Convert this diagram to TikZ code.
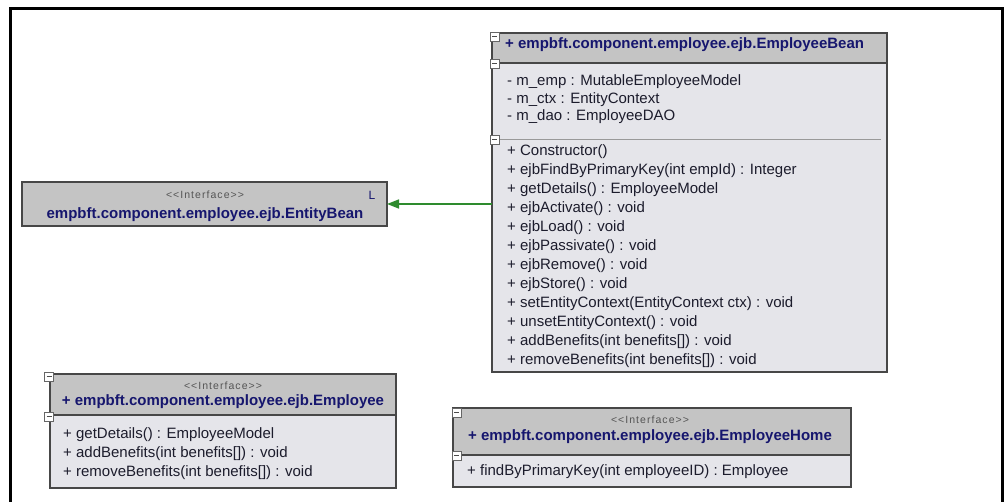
\documentclass[tikz,border=0pt]{standalone}
\usepackage{fontspec}
\setmainfont{Liberation Sans}
\newfontfamily\stfont[Ligatures=TeXOff,LetterSpace=10]{Liberation Sans}
\usetikzlibrary{arrows.meta}
\definecolor{hdr}{HTML}{C4C4C4}
\definecolor{bdy}{HTML}{E5E5EA}
\definecolor{navy}{HTML}{16166E}
\definecolor{txt}{HTML}{1C1C2C}
\definecolor{edge}{HTML}{474747}
\definecolor{stgray}{HTML}{555555}
\definecolor{arrowgreen}{HTML}{2E8B2E}
\tikzset{
  boxbase/.style={draw=edge, line width=1.2pt, inner sep=0pt, outer sep=0pt, anchor=north west},
  hdrbox/.style={boxbase, fill=hdr},
  bodybox/.style={boxbase, fill=bdy},
  sepline/.style={draw=black!40, line width=1pt},
  minusbox/.style={draw=black!60, fill=white, line width=0.8pt, minimum size=9pt, inner sep=0pt,
    path picture={\draw[line width=1pt, black!70] ([xshift=2pt]path picture bounding box.west) -- ([xshift=-2pt]path picture bounding box.east);}},
  titletext/.style={font=\fontsize{15}{18}\selectfont\bfseries, text=navy, inner sep=0pt},
  bodytext/.style={font=\fontsize{15}{18}\selectfont, text=txt, inner sep=0pt, anchor=west},
  stereo/.style={font=\fontsize{10.5}{12}\stfont, text=stgray, inner sep=0pt},
  realize/.style={draw=arrowgreen, line width=1.5pt, -{Triangle[length=12pt, width=9pt]}}
}
\begin{document}
\begin{tikzpicture}[x=1pt,y=-1pt]
\useasboundingbox (0,0) rectangle (1007,502);
\fill[white] (0,0) rectangle (1007,502);
\draw[line width=3pt] (10.3,503) -- (10.3,9) -- (1002.3,9) -- (1002.3,503);

% EmployeeBean
\node[hdrbox, minimum width=395pt, minimum height=30pt] (beanH) at (492,33) {};
\node[bodybox, minimum width=395pt, minimum height=309pt] (beanB) at (492,63) {};
\draw[sepline] ([xshift=1pt]beanB.west |- 0,140) -- ([xshift=-6pt]beanB.east |- 0,140);
\node[titletext, anchor=west] (beanT) at (505,45) {+ empbft.component.employee.ejb.EmployeeBean};
\foreach \t [count=\i] in {{- m\_emp : MutableEmployeeModel},{- m\_ctx : EntityContext},{- m\_dao : EmployeeDAO}}
  \node[bodytext] (ba\i) at (507,64.5+17.5*\i) {\t};
\foreach \t [count=\i] in {{+ Constructor()},{+ ejbFindByPrimaryKey(int empId) : Integer},{+ getDetails() : EmployeeModel},{+ ejbActivate() : void},{+ ejbLoad() : void},{+ ejbPassivate() : void},{+ ejbRemove() : void},{+ ejbStore() : void},{+ setEntityContext(EntityContext ctx) : void},{+ unsetEntityContext() : void},{+ addBenefits(int benefits[]) : void},{+ removeBenefits(int benefits[]) : void}}
  \node[bodytext] (bm\i) at (507,133+19*\i) {\t};
\node[minusbox] (bmin1) at (494.5,36.5) {};
\node[minusbox] (bmin2) at (494.5,63.5) {};
\node[minusbox] (bmin3) at (494.5,139.5) {};

% EntityBean
\node[hdrbox, minimum width=365pt, minimum height=44pt] (entity) at (22,182) {};
\node[stereo] (entS) at (205,195) {<<Interface>>};
\node[font=\fontsize{12}{14}\selectfont, text=navy, inner sep=0pt] (entL) at (372,195) {L};
\node[titletext] (entT) at (205,215) {empbft.component.employee.ejb.EntityBean};

% realization arrow
\draw[realize] (beanB.west |- entity.east) -- (entity.east);

% Employee
\node[hdrbox, minimum width=346pt, minimum height=41pt] (empH) at (50,374) {};
\node[bodybox, minimum width=346pt, minimum height=73pt] (empB) at (50,415) {};
\node[stereo] (empS) at (223,386) {<<Interface>>};
\node[titletext] (empT) at (223,402) {+ empbft.component.employee.ejb.Employee};
\foreach \t [count=\i] in {{+ getDetails() : EmployeeModel},{+ addBenefits(int benefits[]) : void},{+ removeBenefits(int benefits[]) : void}}
  \node[bodytext] (em\i) at (63,416+19*\i) {\t};
\node[minusbox] (emin1) at (49,377) {};
\node[minusbox] (emin2) at (49,417) {};

% EmployeeHome
\node[hdrbox, minimum width=398pt, minimum height=47pt] (homeH) at (453,408) {};
\node[bodybox, minimum width=398pt, minimum height=32pt] (homeB) at (453,455) {};
\node[stereo] (homeS) at (650,420) {<<Interface>>};
\node[titletext] (homeT) at (650,437) {+ empbft.component.employee.ejb.EmployeeHome};
\node[bodytext] (hm1) at (467,472) {+ findByPrimaryKey(int employeeID) : Employee};
\node[minusbox] (hmin1) at (456.5,412.5) {};
\node[minusbox] (hmin2) at (456.5,456) {};
\end{tikzpicture}
\end{document}
